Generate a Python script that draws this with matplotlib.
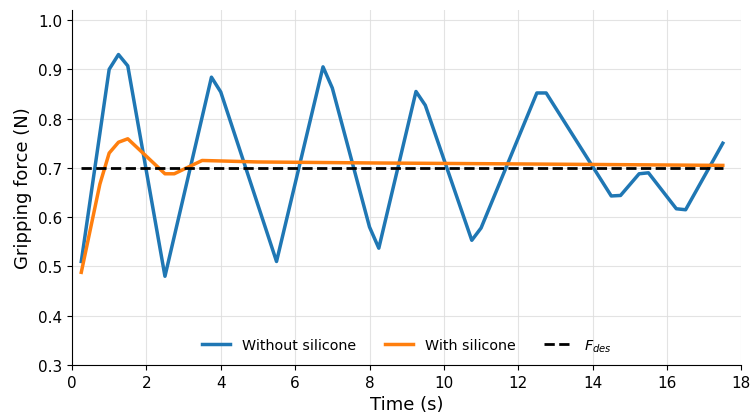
import matplotlib.pyplot as plt

# without silicone (vertices of the trace)
t_blue = [0.25, 1.0, 1.25, 1.5, 2.5, 3.75, 4.0, 5.5, 6.75, 7.0, 8.0, 8.25,
          9.25, 9.5, 10.75, 11.0, 12.5, 12.75, 14.5, 14.75, 15.25, 15.5,
          16.25, 16.5, 17.5]
f_blue = [0.51, 0.90, 0.93, 0.907, 0.48, 0.884, 0.854, 0.51, 0.905, 0.862,
          0.58, 0.537, 0.855, 0.827, 0.553, 0.578, 0.852, 0.852, 0.643,
          0.644, 0.688, 0.69, 0.617, 0.615, 0.75]

# with silicone
t_orange = [0.25, 0.75, 1.0, 1.25, 1.5, 2.5, 2.75, 3.5, 5.0, 8.0, 12.0, 17.5]
f_orange = [0.488, 0.667, 0.73, 0.752, 0.759, 0.688, 0.688, 0.715, 0.712,
            0.710, 0.708, 0.705]

t_des = [0.25, 17.5]
f_des = [0.7, 0.7]

fig = plt.figure(figsize=(7.53, 4.14), dpi=100)
ax = fig.add_axes([0.0956, 0.116, 0.889, 0.857])

ax.plot(t_blue, f_blue, color='#1f77b4', lw=2.5, label='Without silicone')
ax.plot(t_orange, f_orange, color='#ff7f0e', lw=2.5, label='With silicone')
ax.plot(t_des, f_des, 'k--', lw=2, label='$F_{des}$')

ax.set_xlim(0, 18)
ax.set_ylim(0.3, 1.02)
ax.set_xticks(range(0, 19, 2))
ax.set_yticks([0.3, 0.4, 0.5, 0.6, 0.7, 0.8, 0.9, 1.0])
ax.tick_params(labelsize=11)
ax.set_xlabel('Time (s)', fontsize=13)
ax.set_ylabel('Gripping force (N)', fontsize=13)
ax.grid(True, color='#dddddd', lw=0.8, alpha=0.8)
ax.spines['top'].set_visible(False)
ax.spines['right'].set_visible(False)
ax.legend(loc='lower center', ncol=3, frameon=False, fontsize=10.3,
          columnspacing=2.0, bbox_to_anchor=(0.5, -0.005))

fig.savefig('out.png', dpi=100)
